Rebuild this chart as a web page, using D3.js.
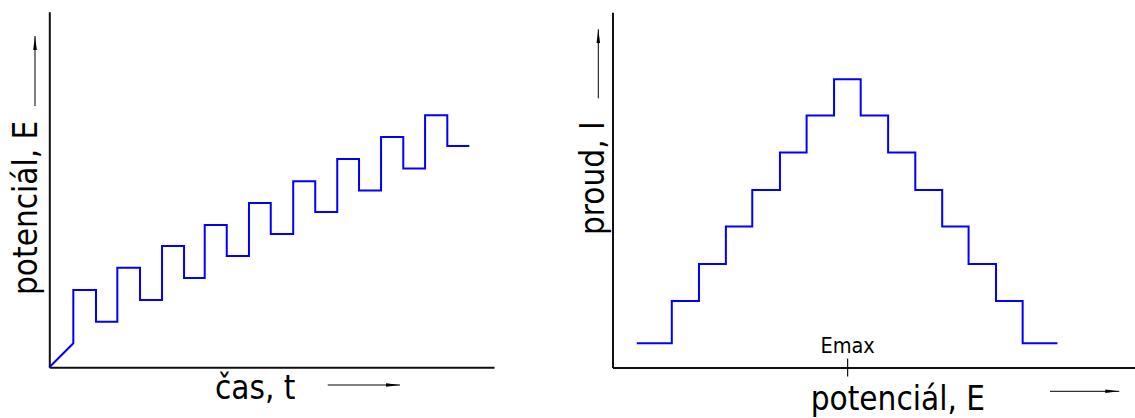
<!DOCTYPE html>
<html>
<head>
<meta charset="utf-8">
<script src="https://cdn.jsdelivr.net/npm/d3@7"></script>
<style>
  html, body { margin: 0; padding: 0; background: #fff; }
  svg { display: block; }
  text { font-family: "DejaVu Sans Condensed", "DejaVu Sans", sans-serif; font-stretch: condensed; fill: #000; }
</style>
</head>
<body>
<svg id="chart" width="1135" height="418"></svg>
<script>
// ---------- Left chart: staircase potential vs time ----------
const rampEnd = [1.08, 1.08];             // [time, potential] end of initial ramp
const leftStepTimes = [1.08, 2.10, 3.06, 4.08, 5.07, 6.06, 6.99, 7.98, 8.98, 9.96,
                       10.97, 11.96, 12.95, 13.93, 14.92, 15.92, 16.90, 17.90, 18.89];
const leftStepPotentials = [3.48, 2.05, 4.48, 3.03, 5.46, 4.02, 6.40, 5.01, 7.39, 6.00,
                            8.37, 6.99, 9.37, 7.96, 10.36, 8.94, 11.34, 9.96];
const leftXLabel = "čas, t";
const leftYLabel = "potenciál, E";

// ---------- Right chart: current vs potential ----------
const rightStepEdges = [0.93, 2.27, 3.31, 4.34, 5.35, 6.41, 7.43, 8.48, 9.50,
                        10.55, 11.59, 12.62, 13.63, 14.68, 15.70, 17.03];
const rightCurrents = [0.82, 2.25, 3.50, 4.76, 6.00, 7.26, 8.51, 9.74,
                       8.51, 7.26, 6.00, 4.76, 3.50, 2.25, 0.82];
const emaxValue = 9.0;
const emaxLabel = "Emax";
const rightXLabel = "potenciál, E";
const rightYLabel = "proud, I";

const svg = d3.select("#chart");
const blue = "#0000ff";
const axisColor = "#111";

// Scales
const xL = d3.scaleLinear().domain([0, 20]).range([49.3, 494]);
const yL = d3.scaleLinear().domain([0, 16]).range([367.3, 11.7]);
const xR = d3.scaleLinear().domain([0, 20]).range([612.5, 1135]);
const yR = d3.scaleLinear().domain([0, 12]).range([367.5, 12.3]);

// Arrow marker
const defs = svg.append("defs");
defs.append("marker")
  .attr("id", "arr")
  .attr("viewBox", "0 0 14 6")
  .attr("refX", 14).attr("refY", 3)
  .attr("markerWidth", 14).attr("markerHeight", 6)
  .attr("markerUnits", "userSpaceOnUse")
  .attr("orient", "auto")
  .append("path")
  .attr("d", "M0,1.2 L14,3 L0,4.8 Z")
  .attr("fill", "#000");

function drawAxes(g, x, y) {
  const ax = g.append("g")
    .attr("transform", `translate(0,${y(0)})`)
    .call(d3.axisBottom(x).tickValues([]).tickSizeOuter(0));
  const ay = g.append("g")
    .attr("transform", `translate(${x(0)},0)`)
    .call(d3.axisLeft(y).tickValues([]).tickSizeOuter(0));
  [ax, ay].forEach(a => a.select(".domain").attr("stroke", axisColor).attr("stroke-width", 2));
}

// ----- Left chart -----
const gL = svg.append("g");
drawAxes(gL, xL, yL);

const leftVerts = [[0, 0], rampEnd];
leftStepPotentials.forEach((e, i) => {
  leftVerts.push([leftStepTimes[i], e]);
  leftVerts.push([leftStepTimes[i + 1], e]);
});
gL.append("path")
  .attr("d", d3.line().x(d => xL(d[0])).y(d => yL(d[1]))(leftVerts))
  .attr("fill", "none").attr("stroke", blue).attr("stroke-width", 2);

gL.append("text").attr("x", 215).attr("y", 399.3)
  .attr("font-size", 33).text(leftXLabel);
gL.append("line").attr("x1", 327.7).attr("y1", 385).attr("x2", 400).attr("y2", 385)
  .attr("stroke", "#000").attr("stroke-width", 1).attr("marker-end", "url(#arr)");
gL.append("text").attr("transform", "translate(37.3,295) rotate(-90)")
  .attr("font-size", 33).text(leftYLabel);
gL.append("line").attr("x1", 35).attr("y1", 106).attr("x2", 35).attr("y2", 36)
  .attr("stroke", "#000").attr("stroke-width", 1).attr("marker-end", "url(#arr)");

// ----- Right chart -----
const gR = svg.append("g");
drawAxes(gR, xR, yR);

const rightVerts = [];
rightCurrents.forEach((c, i) => {
  rightVerts.push([rightStepEdges[i], c]);
  rightVerts.push([rightStepEdges[i + 1], c]);
});
gR.append("path")
  .attr("d", d3.line().x(d => xR(d[0])).y(d => yR(d[1]))(rightVerts))
  .attr("fill", "none").attr("stroke", blue).attr("stroke-width", 2);

gR.append("line")
  .attr("x1", xR(emaxValue)).attr("x2", xR(emaxValue))
  .attr("y1", yR(0) - 9).attr("y2", yR(0) + 9)
  .attr("stroke", axisColor).attr("stroke-width", 1.2);
gR.append("text").attr("x", xR(emaxValue)).attr("y", 353.3)
  .attr("text-anchor", "middle").attr("font-size", 21.5).text(emaxLabel);

gR.append("text").attr("x", 810.7).attr("y", 410)
  .attr("font-size", 33).text(rightXLabel);
gR.append("line").attr("x1", 1050).attr("y1", 391.3).attr("x2", 1119.3).attr("y2", 391.3)
  .attr("stroke", "#000").attr("stroke-width", 1).attr("marker-end", "url(#arr)");
gR.append("text").attr("transform", "translate(604.3,235) rotate(-90)")
  .attr("font-size", 33).text(rightYLabel);
gR.append("line").attr("x1", 598.3).attr("y1", 98.3).attr("x2", 598.3).attr("y2", 29.3)
  .attr("stroke", "#000").attr("stroke-width", 1).attr("marker-end", "url(#arr)");
</script>
</body>
</html>
